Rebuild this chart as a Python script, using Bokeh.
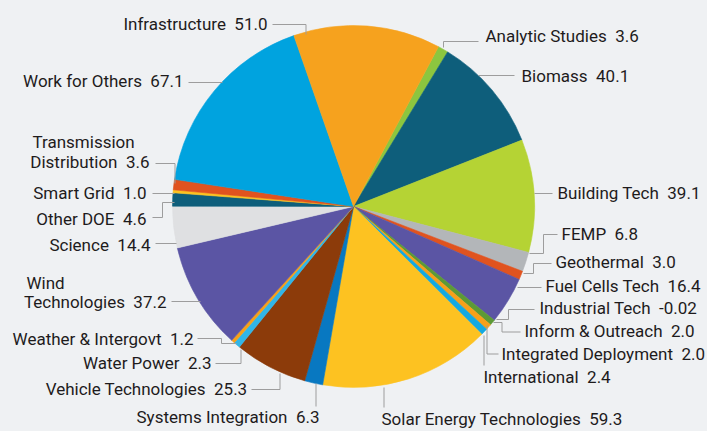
import math
from bokeh.plotting import figure
from bokeh.models import Range1d, ColumnDataSource
from bokeh.core.properties import value
from bokeh.embed import file_html
from bokeh.resources import INLINE

# ---------------- data ----------------
categories = [
    "Analytic Studies", "Biomass", "Building Tech", "FEMP", "Geothermal",
    "Fuel Cells Tech", "Industrial Tech", "Inform & Outreach",
    "Integrated Deployment", "International", "Solar Energy Technologies",
    "Systems Integration", "Vehicle Technologies", "Water Power",
    "Weather & Intergovt", "Wind Technologies", "Science", "Other DOE",
    "Smart Grid", "Transmission Distribution", "Work for Others", "Infrastructure",
]
values = [3.6, 40.1, 39.1, 6.8, 3.0, 16.4, -0.02, 2.0, 2.0, 2.4, 59.3,
          6.3, 25.3, 2.3, 1.2, 37.2, 14.4, 4.6, 1.0, 3.6, 67.1, 51.0]

# ---------------- styles ----------------
colors = [
    "#8cc63f", "#0e5e7b", "#b5d334", "#b3b6b9", "#e0531f",
    "#5b55a4", "#5b55a4", "#5c9a36",
    "#f6a01a", "#13a9e1", "#fdc221",
    "#0878c1", "#8c3b0a", "#31b6e7",
    "#f6a01a", "#5b55a4", "#dfe0e2", "#0e5e7b",
    "#fdc221", "#e0531f", "#00a3df", "#f6a21e",
]
BG = "#eff1f3"
TEXT_COLOR = "#1e1b1c"
LEADER_COLOR = "#9d9d9d"
FONT = "Roboto"
FONT_SIZE = "17px"
GAP = "\u00a0 "  # double gap between name and value
TEXT_SHIFT = -7.5  # renderer places text lower than the requested baseline

# ---------------- layout (page pixel coordinates) ----------------
W, H = 707, 431
CX, CY, R = 353, 206, 181
START_DEG = 28  # first slice starts 28 deg clockwise from 12 o'clock

# label anchor: (x, baseline y, align)
label_layout = [
    (485, 43, "left"), (521, 82.5, "left"), (557, 200, "left"),
    (561, 241, "left"), (555, 269, "left"), (545, 293, "left"),
    (539, 315, "left"), (524, 338, "left"), (501, 360.5, "left"),
    (483, 384, "left"), (381, 426, "left"),
    (319, 424, "right"), (247, 396, "right"), (211, 370, "right"),
    (193, 346, "right"), (166, 309, "right"), (150, 251.5, "right"),
    (146, 226, "right"), (146, 200, "right"), (149, 169, "right"),
    (183, 88, "right"), (267, 31, "right"),
]
# first line of two-line labels: category index -> (x, baseline)
first_line_layout = {15: (26, 290), 19: (32, 149)}

leader_layout = [
    [(443, 47), (443, 41), (478, 41)],
    [(478, 75), (514, 75)],
    [(534, 193), (552, 193)],
    [(529, 253), (543, 253), (543, 234), (557, 234)],
    [(523, 273), (533, 273), (533, 263), (551, 263)],
    [(517, 287), (541, 287)],
    [(496, 319), (508, 319), (508, 309), (534, 309)],
    [(493, 322), (501.5, 322), (501.5, 331.5), (520, 331.5)],
    [(486.5, 325), (486.5, 353.5), (498, 353.5)],
    [(483.5, 335), (483.5, 365)],
    [(383.5, 387), (383.5, 407)],
    [(315.5, 383), (315.5, 406)],
    [(279.5, 373), (279.5, 389), (251, 389)],
    [(240.5, 349), (240.5, 363), (215, 363)],
    [(236, 343), (221, 343), (221, 338), (197, 338)],
    [(200, 301), (171, 301)],
    [(176, 243), (155, 243)],
    [(174, 202), (162, 202), (162, 217), (152, 217)],
    [(174, 193), (152, 193)],
    [(174.5, 183), (174.5, 163), (155, 163)],
    [(222, 82), (188, 82)],
    [(305.5, 34), (305.5, 24), (272, 24)],
]

# ---------------- figure ----------------
p = figure(width=W, height=H, output_backend="svg", toolbar_location=None,
           x_range=Range1d(0, W), y_range=Range1d(-H, 0),
           min_border=0, x_axis_location=None, y_axis_location=None)
p.grid.visible = False
p.outline_line_color = None
p.background_fill_color = BG
p.border_fill_color = BG

# wedges (clockwise from START_DEG)
total = sum(max(v, 0) for v in values)
a = math.radians(90 - START_DEG)
w = dict(cat=[], start=[], end=[], color=[])
for c, v, col in zip(categories, values, colors):
    span = 2 * math.pi * max(v, 0) / total
    if span > 0:
        w["cat"].append(c)
        w["start"].append(a)
        w["end"].append(a - span)
        w["color"].append(col)
    a -= span
p.wedge(x=CX, y=-CY, radius=R, start_angle="start", end_angle="end",
        direction="clock", fill_color="color", line_color="color",
        line_width=0.6, source=ColumnDataSource(w))

# leader lines
p.multi_line(xs=[[pt[0] for pt in L] for L in leader_layout],
             ys=[[-pt[1] for pt in L] for L in leader_layout],
             line_color=LEADER_COLOR, line_width=1)

# labels
def fmt(v):
    return f"{v:.2f}" if abs(v) < 0.1 else f"{v:.1f}"

tx, ty, tt, ta = [], [], [], []
for i, (c, v) in enumerate(zip(categories, values)):
    x, y, al = label_layout[i]
    name = c
    if i in first_line_layout:
        first, rest = c.split(" ", 1)
        fx, fy = first_line_layout[i]
        tx.append(fx); ty.append(-(fy + TEXT_SHIFT)); tt.append(first); ta.append("left")
        name = rest
    tx.append(x); ty.append(-(y + TEXT_SHIFT)); tt.append(f"{name}{GAP}{fmt(v)}"); ta.append(al)

p.text(x="x", y="y", text="text", text_align="align",
       source=ColumnDataSource(dict(x=tx, y=ty, text=tt, align=ta)),
       text_baseline="alphabetic", text_font=value(FONT),
       text_font_size=FONT_SIZE, text_color=TEXT_COLOR)

html = file_html(p, INLINE)
html = html.replace("</head>", f"<style>body{{background:{BG};}}</style></head>", 1)
open("out.html", "w").write(html)
